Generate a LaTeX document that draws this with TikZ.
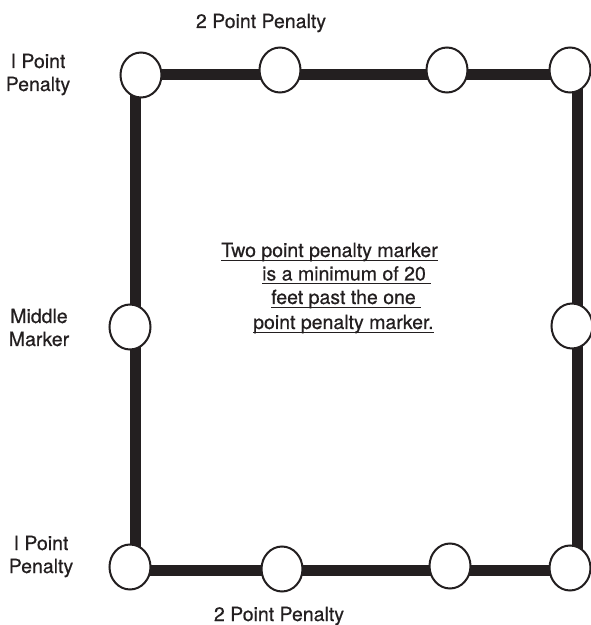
\documentclass[tikz,border=0pt]{standalone}
\usepackage{fontspec}
\setmainfont{TeX Gyre Heros}[FakeBold=0.5]
\usetikzlibrary{shapes.geometric}
\definecolor{ink}{RGB}{35,31,32}

\newsavebox{\ulbox}
\newcommand{\ulined}[1]{\sbox{\ulbox}{#1}\rlap{\rule[-3.8pt]{\wd\ulbox}{1.2pt}}\usebox{\ulbox}}

\tikzset{
  marker/.style={ellipse,draw=ink,fill=white,line width=2pt,inner sep=0pt,
    minimum width=41pt,minimum height=45pt},
  lbl/.style={anchor=base,align=center,text=ink,inner sep=0pt,
    font=\fontsize{19.5}{23}\selectfont},
  note/.style={anchor=base west,text=ink,inner sep=0pt,
    font=\fontsize{19.5}{23}\selectfont},
  frame/.style={draw=ink,line width=11pt},
}

\begin{document}
\begin{tikzpicture}[x=1pt,y=1pt]
  \useasboundingbox (0,0) rectangle (591,625);
  \fill[white] (0,0) rectangle (591,625);

  % course outline
  \coordinate (ctl) at (135,550.5);
  \coordinate (ctr) at (577.5,550.5);
  \coordinate (cbr) at (577.5,54.5);
  \coordinate (cbl) at (135,54.5);
  \draw[frame] (ctl) -- (ctr) -- (cbr) -- (cbl) -- cycle;

  % markers
  \foreach \name/\x/\y in {
    mtl/141/550,mtb/280/555,mtc/447/555,mtr/570/555,
    mml/130/298,mmr/572/299,
    mbl/130/58,mbb/282/56,mbc/450/59,mbr/570/57} {
    \node[marker] (\name) at (\x,\y) {};
  }

  % labels (base = last line)
  \node[lbl] (toppen) at (261,597) {2 Point Penalty};
  \node[lbl] (botpen) at (279,4) {2 Point Penalty};
  \node[lbl] (tlpen) at (38,534) {I Point\\Penalty};
  \node[lbl] (midlbl) at (39,279) {Middle\\Marker};
  \node[lbl] (blpen) at (41,52) {I Point\\Penalty};

  % centre note
  \node[note] (note1) at (221,368) {\ulined{Two point penalty marker}};
  \node[note] (note2) at (262,344.5) {\ulined{is a minimum of 20\ }};
  \node[note] (note3) at (271,321) {\ulined{feet past the one\ }};
  \node[note] (note4) at (253,296) {\ulined{point penalty marker.}};
\end{tikzpicture}
\end{document}
